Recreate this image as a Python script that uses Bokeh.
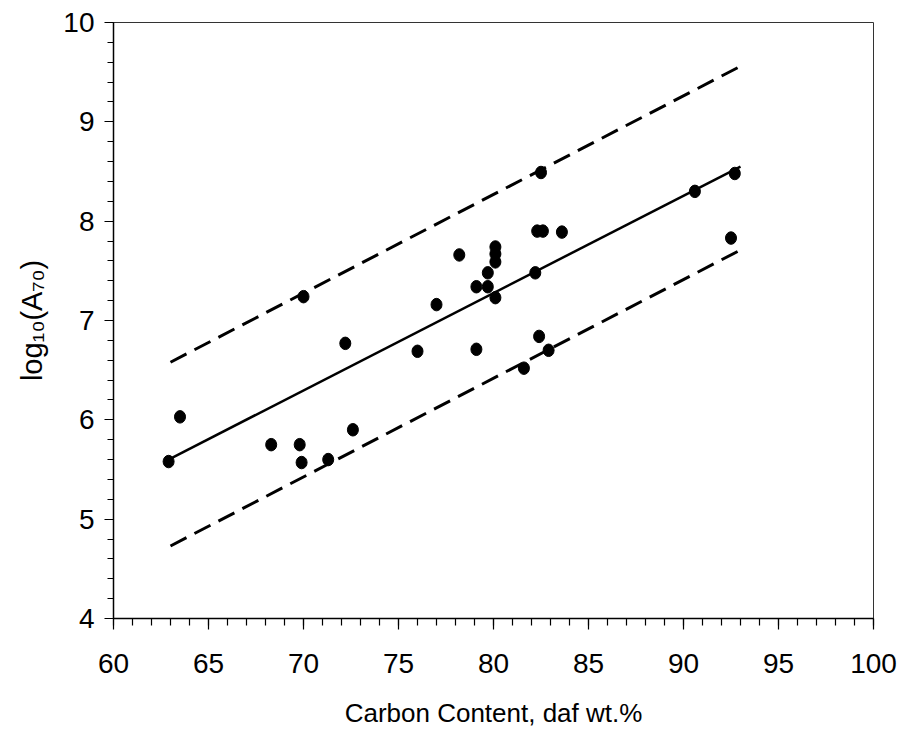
from bokeh.plotting import figure
from bokeh.models import FixedTicker, ColumnDataSource
from bokeh.embed import file_html
from bokeh.resources import INLINE

# Data
carbon = [62.9, 63.5, 68.3, 69.8, 69.9, 71.3, 72.2, 72.6, 76.0, 77.0, 79.1, 70.0,
          78.2, 79.1, 79.7, 79.7, 80.1, 80.1, 80.1, 80.1, 82.2, 82.5, 82.3, 82.6,
          83.6, 90.6, 92.7, 92.5, 82.4, 82.9, 81.6]
log_a70 = [5.58, 6.03, 5.75, 5.75, 5.57, 5.60, 6.77, 5.90, 6.69, 7.16, 6.71, 7.24,
           7.66, 7.34, 7.34, 7.48, 7.23, 7.74, 7.67, 7.59, 7.48, 8.49, 7.90, 7.90,
           7.89, 8.30, 8.48, 7.83, 6.84, 6.70, 6.52]

fit_x = [63.0, 93.0]
fit_y = [5.61, 8.55]
upper_y = [6.58, 9.56]
lower_y = [4.73, 7.71]

x_major = [60, 65, 70, 75, 80, 85, 90, 95, 100]
x_minor = list(range(60, 101))
y_major = [4, 5, 6, 7, 8, 9, 10]
y_minor = [4 + 0.2 * i for i in range(31)]

x_title = "Carbon Content, daf wt.%"
y_title = "log\u2081\u2080(A\u2087\u2080)"

FONT = "Liberation Sans"

p = figure(width=913, height=735, x_range=(60, 100), y_range=(4, 10),
           output_backend="svg", toolbar_location=None,
           min_border_left=113, min_border_right=40,
           min_border_top=22, min_border_bottom=117)

p.xgrid.visible = False
p.ygrid.visible = False
p.outline_line_color = "#333333"
p.outline_line_width = 1
p.background_fill_color = "white"
p.border_fill_color = "white"

p.xaxis.ticker = FixedTicker(ticks=x_major, minor_ticks=x_minor)
p.yaxis.ticker = FixedTicker(ticks=y_major, minor_ticks=y_minor)

for ax in (p.xaxis, p.yaxis):
    ax.axis_line_color = "black"
    ax.axis_line_width = 1.5
    ax.major_tick_line_color = "black"
    ax.minor_tick_line_color = "black"
    ax.major_tick_line_width = 1.2
    ax.minor_tick_line_width = 1.2
    ax.major_tick_in = 0
    ax.minor_tick_in = 0
    ax.major_label_text_font = FONT
    ax.major_label_text_font_size = "28px"
    ax.major_label_text_color = "black"
    ax.axis_label_text_font = FONT
    ax.axis_label_text_font_style = "normal"
    ax.axis_label_text_color = "black"

p.xaxis.major_tick_out = 11
p.xaxis.minor_tick_out = 7
p.yaxis.major_tick_out = 9
p.yaxis.minor_tick_out = 6
p.xaxis.major_label_standoff = 24
p.yaxis.major_label_standoff = 10

p.xaxis.axis_label = x_title
p.xaxis.axis_label_text_font_size = "26px"
p.xaxis.axis_label_standoff = 22
p.yaxis.axis_label = y_title
p.yaxis.axis_label_text_font_size = "29px"
p.yaxis.axis_label_standoff = 12

p.line(fit_x, upper_y, line_color="black", line_width=3, line_dash="18 9")
p.line(fit_x, lower_y, line_color="black", line_width=3, line_dash="18 9")
p.line(fit_x, fit_y, line_color="black", line_width=2.5)

src = ColumnDataSource(dict(x=carbon, y=log_a70))
p.ellipse(x="x", y="y", width=11, height=12.5, width_units="screen",
          height_units="screen", source=src, fill_color="black", line_color="black")

open("out.html", "w").write(file_html(p, INLINE))
